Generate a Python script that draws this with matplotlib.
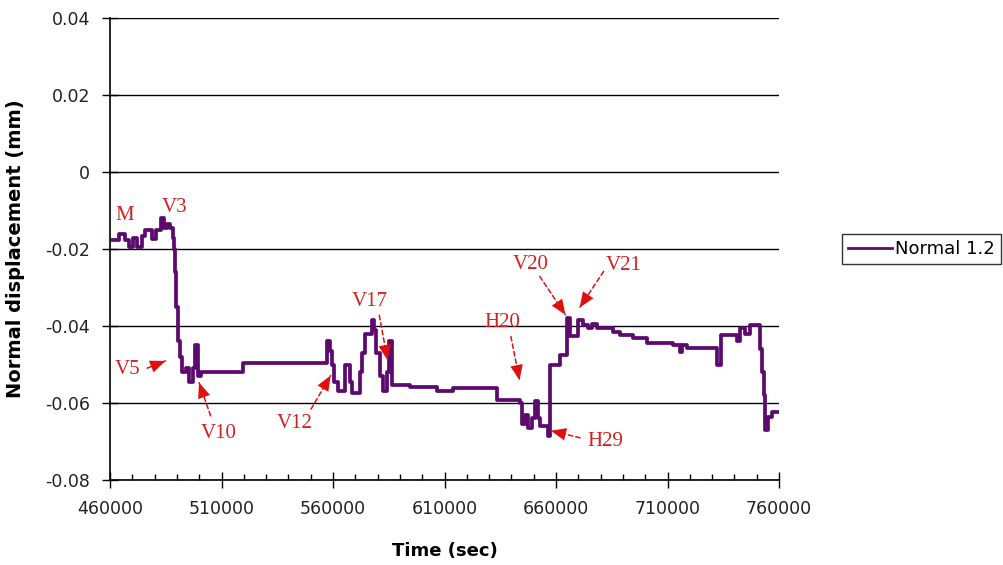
import matplotlib.pyplot as plt
from matplotlib.ticker import MultipleLocator

# time (sec) at the start of each step and the normal displacement (mm) held from there
time = [460000, 464000, 466500, 468300, 470300, 472000, 474200, 475700, 478800,
        480800, 482800, 484000, 485600, 487000, 488300, 488800, 489200, 489800,
        490500, 491400, 492300, 494000, 495200, 497300, 498000, 499500, 501000,
        519600, 557300, 558500, 559500, 560500, 562000, 565400, 567600, 568500,
        572100, 573200, 574400, 577500, 578500, 579300, 581000, 582500, 584000,
        585300, 586500, 594500, 606600, 613800, 633500, 643900, 644600, 646000,
        647200, 649200, 650500, 651800, 653000, 656200, 657300, 661800, 665000,
        666300, 669900, 672100, 674500, 676000, 678300, 685600, 688700, 694500,
        700800, 712500, 715500, 716300, 718700, 732200, 733800, 741000, 742500,
        744500, 747000, 751500, 752400, 753100, 753800, 754800, 757000, 760000]
disp = [-0.0177, -0.0160, -0.0177, -0.0195, -0.0172, -0.0195, -0.0165, -0.0150, -0.0175,
        -0.0150, -0.0120, -0.0145, -0.0135, -0.0145, -0.0170, -0.0200, -0.0260, -0.0350,
        -0.0440, -0.0480, -0.0520, -0.0510, -0.0545, -0.0510, -0.0450, -0.0530, -0.0520,
        -0.0497, -0.0440, -0.0465, -0.0500, -0.0545, -0.0570, -0.0500, -0.0545, -0.0575,
        -0.0520, -0.0470, -0.0420, -0.0385, -0.0410, -0.0470, -0.0530, -0.0570, -0.0520,
        -0.0440, -0.0553, -0.0558, -0.0570, -0.0562, -0.0592, -0.0600, -0.0655, -0.0630,
        -0.0665, -0.0640, -0.0595, -0.0640, -0.0660, -0.0685, -0.0500, -0.0475, -0.0380,
        -0.0425, -0.0385, -0.0397, -0.0405, -0.0395, -0.0405, -0.0415, -0.0424, -0.0432,
        -0.0444, -0.0450, -0.0468, -0.0450, -0.0457, -0.0500, -0.0424, -0.0440, -0.0405,
        -0.0420, -0.0397, -0.0460, -0.0520, -0.0580, -0.0670, -0.0636, -0.0624, -0.0624]

# event labels: name, text position, arrow tip (None = no arrow)
labels = ['M', 'V3', 'V5', 'V10', 'V12', 'V17', 'H20', 'V20', 'V21', 'H29']
label_xy = [(466700, -0.0112), (489150, -0.0091), (468000, -0.0512), (508900, -0.0678),
            (542950, -0.0652), (576600, -0.0335), (635800, -0.0390), (648800, -0.0239),
            (690500, -0.0242), (682000, -0.0699)]
label_tip = [None, None, (486000, -0.0488), (499500, -0.0540), (559550, -0.0522),
             (584650, -0.0496), (643850, -0.0548), (664900, -0.0377), (669900, -0.0358),
             (656400, -0.0670)]
# where each dashed arrow leaves its label
label_tail = [None, None, (475500, -0.0512), (505500, -0.0640), (549500, -0.0622),
              (580500, -0.0365), (639500, -0.0420), (652000, -0.0265), (682000, -0.0252),
              (672000, -0.0692)]

xticks = [460000, 510000, 560000, 610000, 660000, 710000, 760000]
yticks = [-0.08, -0.06, -0.04, -0.02, 0, 0.02, 0.04]
ytick_labels = ['-0.08', '-0.06', '-0.04', '-0.02', '0', '0.02', '0.04']

plt.rcParams['font.family'] = ['DejaVu Sans']
plt.rcParams['axes.unicode_minus'] = False
fig = plt.figure(figsize=(10.04, 5.65), dpi=100)
ax = fig.add_axes([0.1096, 0.1504, 0.6664, 0.8176])

for yv in yticks:
    ax.axhline(yv, color='black', lw=1, zorder=1)

line, = ax.plot(time, disp, drawstyle='steps-post', color='#5c0a6e', lw=2.7,
                zorder=3, label='Normal 1.2')

ax.set_xlim(460000, 760000)
ax.set_ylim(-0.08, 0.04)
ax.set_xticks(xticks)
ax.set_xticklabels([str(v) for v in xticks])
ax.xaxis.set_minor_locator(MultipleLocator(10000))
ax.set_yticks(yticks)
ax.set_yticklabels(ytick_labels)
ax.tick_params(which='major', direction='inout', length=11, width=1, labelsize=12.5,
               color='black', labelcolor='#222222')
ax.tick_params(axis='x', which='minor', direction='in', length=4, width=1)
ax.tick_params(axis='x', which='major', pad=9)
ax.tick_params(axis='y', pad=9)
for s in ['top', 'right']:
    ax.spines[s].set_visible(False)
for s in ['left', 'bottom']:
    ax.spines[s].set_linewidth(1.2)

ax.set_xlabel('Time (sec)', fontsize=13, fontweight='bold', labelpad=17)
ax.set_ylabel('Normal displacement (mm)', fontsize=14, fontweight='bold', labelpad=14)

for name, xy, tip, tail in zip(labels, label_xy, label_tip, label_tail):
    ax.text(xy[0], xy[1], name, color='#d42020', fontsize=15, family='Liberation Serif',
            ha='center', va='center', zorder=5)
    if tip is not None:
        ax.annotate('', xy=tip, xytext=tail,
                    arrowprops=dict(arrowstyle='-', color='#e01010', lw=1.1, ls=(0, (3, 2))),
                    zorder=4)
        ax.annotate('', xy=tip, xytext=(tail[0] + (tip[0] - tail[0]) * 0.6,
                                        tail[1] + (tip[1] - tail[1]) * 0.6),
                    arrowprops=dict(arrowstyle='-|>,head_length=1.1,head_width=0.45',
                                    color='#e01010', lw=0.01),
                    zorder=4)

leg = fig.legend(handles=[line], loc='center', bbox_to_anchor=(0.918, 0.559),
                 fontsize=13, frameon=True, fancybox=False, handlelength=2.4,
                 borderpad=0.35, handletextpad=0.2, borderaxespad=0)
leg.get_frame().set_edgecolor('black')
leg.get_frame().set_linewidth(1)
leg.get_lines()[0].set_linewidth(2)

plt.savefig('out.png', dpi=100)
